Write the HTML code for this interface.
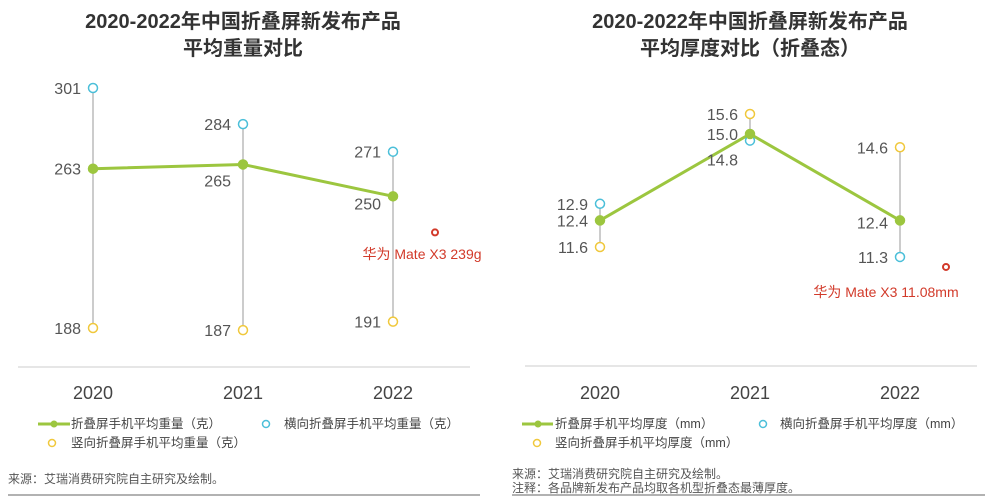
<!DOCTYPE html>
<html><head><meta charset="utf-8">
<style>
html,body{margin:0;padding:0;background:#fff;}
svg{display:block;font-family:"Liberation Sans","Noto Sans CJK SC",sans-serif;}
</style></head>
<body>
<svg id="c" width="1000" height="501" viewBox="0 0 1000 501">
<text x="243" y="28" text-anchor="middle" font-size="20" font-weight="bold" fill="#333">2020-2022年中国折叠屏新发布产品</text>
<text x="243" y="55" text-anchor="middle" font-size="20" font-weight="bold" fill="#333">平均重量对比</text>
<text x="750" y="28" text-anchor="middle" font-size="20" font-weight="bold" fill="#333">2020-2022年中国折叠屏新发布产品</text>
<text x="750" y="55" text-anchor="middle" font-size="20" font-weight="bold" fill="#333">平均厚度对比（折叠态）</text>
<line x1="18" y1="367" x2="470" y2="367" stroke="#ccc"/>
<line x1="525" y1="366" x2="977" y2="366" stroke="#ccc"/>
<line x1="8" y1="495" x2="480" y2="495" stroke="#999" stroke-width="1.5"/>
<line x1="512" y1="495" x2="985" y2="495" stroke="#999" stroke-width="1.5"/>
<g id="L"></g>
<g id="R"></g>
<g font-size="12.5" fill="#444">
<line x1="38" y1="424" x2="70" y2="424" stroke="#9cc63f" stroke-width="3"/><circle cx="54" cy="424" r="3.5" fill="#9cc63f"/>
<text x="71" y="428">折叠屏手机平均重量（克）</text>
<circle cx="266" cy="424" r="3.5" fill="none" stroke="#4bbfd9" stroke-width="1.5"/>
<text x="284" y="428">横向折叠屏手机平均重量（克）</text>
<circle cx="52" cy="443" r="3.5" fill="none" stroke="#f0c83c" stroke-width="1.5"/>
<text x="71" y="447">竖向折叠屏手机平均重量（克）</text>
</g>
<g font-size="12.5" fill="#444">
<line x1="522" y1="424" x2="553" y2="424" stroke="#9cc63f" stroke-width="3"/><circle cx="538" cy="424" r="3.5" fill="#9cc63f"/>
<text x="555" y="428">折叠屏手机平均厚度（mm）</text>
<circle cx="763" cy="424" r="3.5" fill="none" stroke="#4bbfd9" stroke-width="1.5"/>
<text x="780" y="428">横向折叠屏手机平均厚度（mm）</text>
<circle cx="537" cy="443" r="3.5" fill="none" stroke="#f0c83c" stroke-width="1.5"/>
<text x="555" y="447">竖向折叠屏手机平均厚度（mm）</text>
</g>
<text x="8" y="483" font-size="12" fill="#555">来源：艾瑞消费研究院自主研究及绘制。</text>
<text x="512" y="478" font-size="12" fill="#555">来源：艾瑞消费研究院自主研究及绘制。</text>
<text x="512" y="492" font-size="12" fill="#555">注释：各品牌新发布产品均取各机型折叠态最薄厚度。</text>
</svg>
<script>
const years = ["2020","2021","2022"];
const weightAvg = [263,265,250];
const weightH = [301,284,271];
const weightV = [188,187,191];
const weightRef = [233];
const weightRefLabel = "华为 Mate X3 239g";
const thickAvg = [12.4,15.0,12.4];
const thickH = [12.9,14.8,11.3];
const thickV = [11.6,15.6,14.6];
const thickRef = [11.0];
const thickRefLabel = "华为 Mate X3  11.08mm";
const fmtW = v => String(v);
const fmtT = v => v.toFixed(1);
const NS = "http://www.w3.org/2000/svg";
function mk(tag, attrs, parent){const e=document.createElementNS(NS,tag);for(const k in attrs)e.setAttribute(k,attrs[k]);parent.appendChild(e);return e;}
function draw(gid, xs, y, avg, hz, vt, fmt, ref, refLabel, refX, refLabelX, refLabelY, labelOffsets){
  const g=document.getElementById(gid);
  years.forEach((yr,i)=>{
    const lo=Math.min(hz[i],vt[i]), hi=Math.max(hz[i],vt[i]);
    const ln=mk("line",{x1:xs(i),x2:xs(i),y1:y(hi),y2:y(lo),stroke:"#ccc","stroke-width":2},g);
    
    
    const t=mk("text",{x:xs(i),y:399,"text-anchor":"middle","font-size":18,fill:"#444"},g);
    t.textContent=yr;
    
    
  });
  const pts=avg.map((v,i)=>xs(i)+","+y(v)).join(" ");
  const pl=mk("polyline",{points:pts,fill:"none",stroke:"#9cc63f","stroke-width":3},g);
  
  
  const series=[[hz,"#4bbfd9","horizontal"],[vt,"#f0c83c","vertical"],[avg,"#9cc63f","average"]];
  series.forEach(([arr,col,nm])=>{
    arr.forEach((v,i)=>{
      const c=mk("circle",{cx:xs(i),cy:y(v),r:4.5,fill:nm==="average"?col:"#fff",stroke:col,"stroke-width":1.5},g);
      
      
      const off=(labelOffsets[nm]&&labelOffsets[nm][i])||0;
      const t=mk("text",{x:xs(i)-12,y:y(v)+6+off,"text-anchor":"end","font-size":16,fill:"#555"},g);
      t.textContent=fmt(v);
      
      
    });
  });
  const rc=mk("circle",{cx:refX,cy:y(ref[0]),r:3,fill:"#fff",stroke:"#d23a2a","stroke-width":2},g);
  
  
  const rt=mk("text",{x:refLabelX,y:refLabelY,"text-anchor":"middle","font-size":14,fill:"#d23a2a"},g);
  rt.textContent=refLabel;
  
  
}
const xL=i=>93+i*150, yL=v=>88+(301-v)*2.124;
draw("L",xL,yL,weightAvg,weightH,weightV,fmtW,weightRef,weightRefLabel,435,422,259,{average:[0,16,7]});
const xR=i=>600+i*150, yR=v=>114+(15.6-v)*33.25;
draw("R",xR,yR,thickAvg,thickH,thickV,fmtT,thickRef,thickRefLabel,946,886,297,{average:[0,0,2],horizontal:[0,19,0]});
</script>
</body></html>
